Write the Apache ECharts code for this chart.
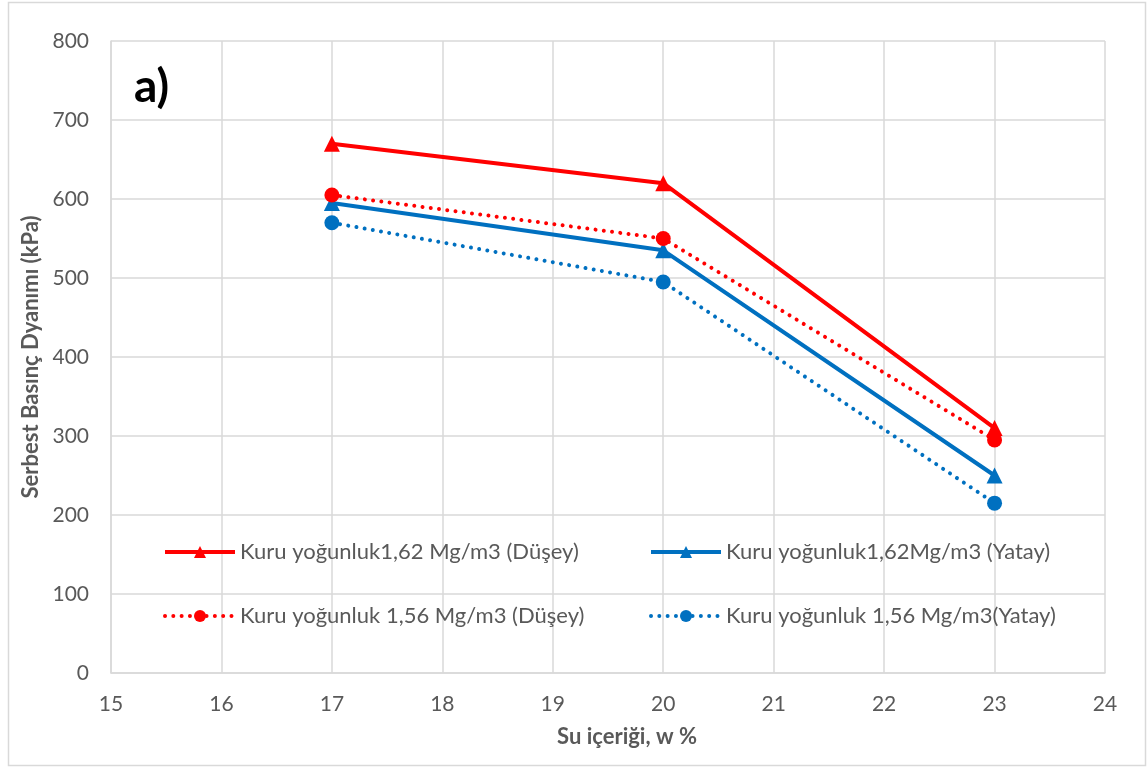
<!DOCTYPE html>
<html>
<head>
<meta charset="utf-8">
<script src="https://cdn.jsdelivr.net/npm/echarts@6/dist/echarts.min.js"></script>
<style>
  html, body { margin: 0; padding: 0; background: #fff; }
  #chart { width: 1148px; height: 767px; }
</style>
</head>
<body>
<div id="chart"></div>
<script>
// Water content (%) at which specimens were tested
const waterContent = [17, 20, 23];

// Unconfined compressive strength (kPa) per dry density and orientation
const dense162Vertical = [670, 620, 310];
const dense162Horizontal = [595, 535, 250];
const dense156Vertical = [605, 550, 295];
const dense156Horizontal = [570, 495, 215];

const seriesNames = [
  'Kuru yoğunluk1,62 Mg/m3 (Düşey)',
  'Kuru yoğunluk1,62Mg/m3 (Yatay)',
  'Kuru yoğunluk 1,56 Mg/m3 (Düşey)',
  'Kuru yoğunluk 1,56 Mg/m3(Yatay)'
];

const xTicks = { min: 15, max: 24, interval: 1 };
const yTicks = { min: 0, max: 800, interval: 100 };

const RED = '#FF0000';
const BLUE = '#0070C0';
const GRID = '#D9D9D9';
const TEXT = '#595959';
const FONT = 'Lato, "Open Sans", sans-serif';

const pairs = (ys) => waterContent.map((x, i) => [x, ys[i]]);

function lineSeries(name, ys, color, dotted, symbol) {
  return {
    name: name,
    type: 'line',
    data: pairs(ys),
    symbol: symbol,
    symbolSize: symbol === 'triangle' ? 16 : 15,
    showSymbol: true,
    itemStyle: { color: color },
    lineStyle: dotted
      ? { color: color, width: 4, type: [0.01, 8.3], cap: 'round' }
      : { color: color, width: 4 },
    emphasis: { disabled: true },
    animation: false
  };
}

function legendAt(name, left, top) {
  return {
    data: [name],
    left: left,
    top: top,
    itemWidth: 70,
    itemHeight: 15,
    itemGap: 8,
    padding: 0,
    selectedMode: false,
    lineStyle: { width: 4 },
    textStyle: { color: TEXT, fontSize: 22, fontFamily: FONT }
  };
}

const chart = echarts.init(document.getElementById('chart'), null, { renderer: 'canvas' });

chart.setOption({
  backgroundColor: '#fff',
  animation: false,
  grid: { left: 111, right: 43, top: 41, bottom: 94, containLabel: false },
  xAxis: {
    type: 'value',
    min: xTicks.min,
    max: xTicks.max,
    interval: xTicks.interval,
    name: 'Su içeriği, w %',
    nameLocation: 'middle',
    nameGap: 53,
    nameTextStyle: { color: TEXT, fontSize: 22, fontWeight: 'bold', fontFamily: FONT, padding: [0, 0, 0, 38] },
    axisLine: { show: true, lineStyle: { color: GRID, width: 1.5 } },
    axisTick: { show: false },
    axisLabel: { color: TEXT, fontSize: 21, fontFamily: FONT, margin: 21 },
    splitLine: { show: true, lineStyle: { color: GRID, width: 1.5 } }
  },
  yAxis: {
    type: 'value',
    min: yTicks.min,
    max: yTicks.max,
    interval: yTicks.interval,
    name: 'Serbest Basınç Dyanımı (kPa)',
    nameLocation: 'middle',
    nameGap: 69,
    nameTextStyle: { color: TEXT, fontSize: 22, fontWeight: 'bold', fontFamily: FONT },
    axisLine: { show: true, lineStyle: { color: GRID, width: 1.5 } },
    axisTick: { show: false },
    axisLabel: { color: TEXT, fontSize: 21, fontFamily: FONT, margin: 22 },
    splitLine: { show: true, lineStyle: { color: GRID, width: 1.5 } }
  },
  legend: [
    legendAt(seriesNames[0], 163, 541),
    legendAt(seriesNames[1], 649, 541),
    legendAt(seriesNames[2], 163, 605),
    legendAt(seriesNames[3], 649, 605)
  ],
  graphic: [
    {
      type: 'rect',
      silent: true,
      shape: { x: 8.5, y: 2.5, width: 1137, height: 763 },
      style: { fill: 'none', stroke: GRID, lineWidth: 1.5 }
    },
    {
      type: 'text',
      silent: true,
      left: 134,
      top: 64,
      style: { text: 'a)', fill: '#000', font: 'bold 46px ' + FONT }
    }
  ],
  series: [
    lineSeries(seriesNames[0], dense162Vertical, RED, false, 'triangle'),
    lineSeries(seriesNames[1], dense162Horizontal, BLUE, false, 'triangle'),
    lineSeries(seriesNames[2], dense156Vertical, RED, true, 'circle'),
    lineSeries(seriesNames[3], dense156Horizontal, BLUE, true, 'circle')
  ]
});
</script>
</body>
</html>
